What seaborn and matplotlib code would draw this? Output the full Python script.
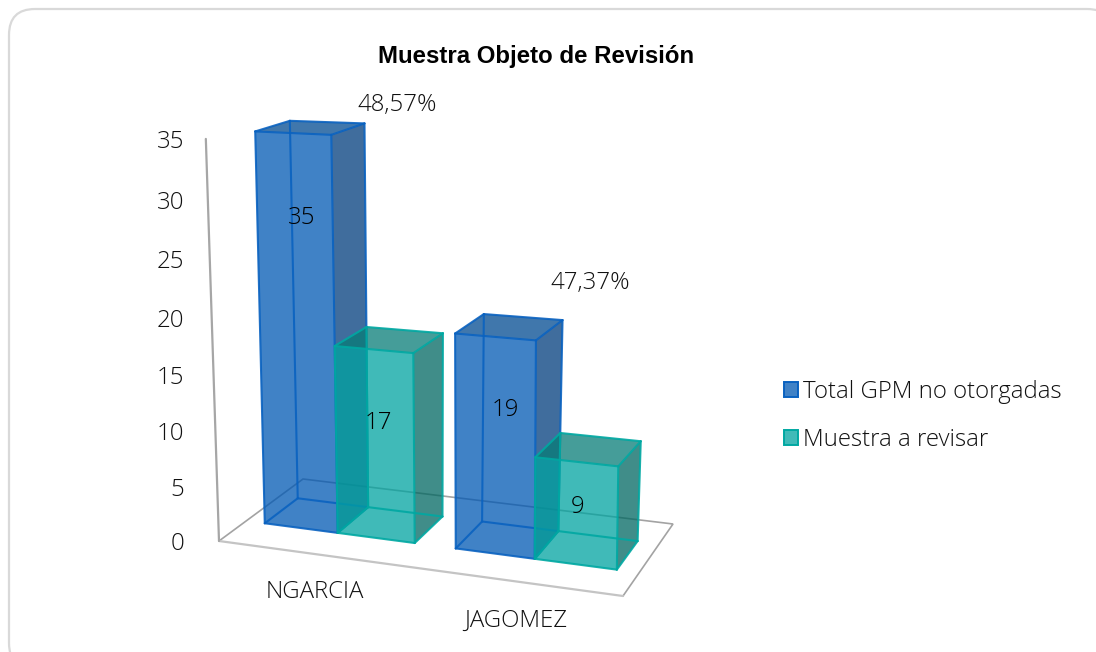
import numpy as np
import pandas as pd
import seaborn as sns
import matplotlib
matplotlib.use("Agg")
import matplotlib.pyplot as plt
from matplotlib.patches import Polygon, FancyBboxPatch, Patch

# ---- data ----
categories = ["NGARCIA", "JAGOMEZ"]
series_names = ["Total GPM no otorgadas", "Muestra a revisar"]
total_gpm = [35, 19]
muestra = [17, 9]
pct_labels = ["48,57%", "47,37%"]
y_ticks = [0, 5, 10, 15, 20, 25, 30, 35]
title = "Muestra Objeto de Revisión"

df = pd.DataFrame({"cat": categories, series_names[0]: total_gpm, series_names[1]: muestra})

# ---- style ----
sns.set_theme(style="white")
plt.rcParams["font.family"] = ["Open Sans", "Liberation Sans", "DejaVu Sans"]
pal_front = sns.color_palette(["#0058B4", "#00A3A0"])
pal_side = sns.color_palette(["#003C7C", "#006761"])
pal_top = sns.color_palette(["#004A90", "#077C77"])
pal_edge = sns.color_palette(["#0A62C0", "#00A8A2"])
TXT = "#111111"

fig = plt.figure(figsize=(10.96, 6.52), dpi=100)
ax = fig.add_axes([0, 0, 1, 1])
ax.set_xlim(0, 1096)
ax.set_ylim(652, 0)
ax.axis("off")

ax.add_patch(FancyBboxPatch((9, 9), 1104, 660, boxstyle="round,pad=0,rounding_size=26",
                            fc="white", ec="#D9D9D9", lw=1.6, zorder=0))

# ---- projection of (u along category axis, d depth, v value) to the picture ----
FLOOR = np.array([[219, 541], [623, 596], [303, 479], [673, 524]], float)  # FL FR BL BR
CEIL = np.array([[207.5, 139], [624, 161], [295, 113], [692, 124]], float)
K = 0.0018
VMAX = max(y_ticks)


def proj(u, d, v):
    t = v * (1 - VMAX * K) / (VMAX * (1 - K * v))
    w = np.array([(1 - u) * (1 - d), u * (1 - d), (1 - u) * d, u * d])
    return tuple((1 - t) * (w @ FLOOR) + t * (w @ CEIL))


# floor and wall
grid_c = "#A3A3A3"
fl, fr, bl, br = [proj(u, d, 0) for u, d in [(0, 0), (1, 0), (0, 1), (1, 1)]]
ax.plot(*zip(fl, bl, br, fr), color=grid_c, lw=1.2, zorder=1, solid_joinstyle="miter")
ax.plot(*zip(fl, fr), color="#C4C4C4", lw=1.6, zorder=1)
ax.plot(*zip(fl, proj(-0.004, 0, VMAX)), color="#A6A6A6", lw=1.6, zorder=1)

# bar footprints along the category axis
U_EDGES = [[0.047, 0.2325, 0.4286], [0.533, 0.734, 0.943]]
D0, D1 = 0.325, 0.725


def draw_bar(u0, u1, v, s, z):
    p = {k: proj(u, d, val) for k, (u, d, val) in {
        "f0b": (u0, D0, 0), "f1b": (u1, D0, 0), "b0b": (u0, D1, 0), "b1b": (u1, D1, 0),
        "f0t": (u0, D0, v), "f1t": (u1, D0, v), "b0t": (u0, D1, v), "b1t": (u1, D1, v)}.items()}
    a = 0.75
    ec = pal_edge[s]
    ax.add_patch(Polygon([p["f1b"], p["b1b"], p["b1t"], p["f1t"]], fc=pal_side[s], alpha=a, ec="none", zorder=z))
    ax.add_patch(Polygon([p["f0t"], p["f1t"], p["b1t"], p["b0t"]], fc=pal_top[s], alpha=a, ec="none", zorder=z))
    ax.add_patch(Polygon([p["f0b"], p["f1b"], p["f1t"], p["f0t"]], fc=pal_front[s], alpha=a, ec="none", zorder=z))
    edges = [("f0b", "f1b"), ("f1b", "b1b"), ("b1b", "b0b"), ("b0b", "f0b"),
             ("f0t", "f1t"), ("f1t", "b1t"), ("b1t", "b0t"), ("b0t", "f0t"),
             ("f0b", "f0t"), ("f1b", "f1t"), ("b1b", "b1t"), ("b0b", "b0t")]
    for e0, e1 in edges:
        ax.plot(*zip(p[e0], p[e1]), color=ec, lw=1.5, alpha=0.9, zorder=z + 0.1, solid_capstyle="round")


for i, row in df.iterrows():
    draw_bar(U_EDGES[i][0], U_EDGES[i][1], row[series_names[0]], 0, 2 + 2 * i)
    draw_bar(U_EDGES[i][1], U_EDGES[i][2], row[series_names[1]], 1, 3 + 2 * i)

# axis labels
FS = 17.3
W = "light"
for v in y_ticks:
    x, y = proj(0, 0, v)
    ax.text(184, y + 3, str(v), ha="right", va="center", fontsize=FS, fontweight=W, color=TXT, zorder=10)
for name, pos in zip(categories, [(315, 592), (516, 621)]):
    ax.text(*pos, name, ha="center", va="center", fontsize=FS, fontweight=W, color=TXT, zorder=10)

# data labels
val_pos = [[(302, 218), (378, 423)], [(505, 410), (578, 507)]]
for i in range(len(categories)):
    ax.text(*val_pos[i][0], str(total_gpm[i]), ha="center", va="center", fontsize=FS, fontweight=W, color="black", zorder=10)
    ax.text(*val_pos[i][1], str(muestra[i]), ha="center", va="center", fontsize=FS, fontweight=W, color="black", zorder=10)
for s, pos in zip(pct_labels, [(397, 105), (590, 283)]):
    ax.text(*pos, s, ha="center", va="center", fontsize=FS, fontweight=W, color=TXT, zorder=10)

ax.text(536, 56, title, ha="center", va="center", fontsize=17.25, fontweight="bold", color="black",
        family=["Liberation Sans", "DejaVu Sans"], zorder=10)

# legend
handles = [Patch(fc=(*pal_front[i], 0.75), ec=pal_edge[i], lw=1.4, label=series_names[i]) for i in range(2)]
leg = ax.legend(handles=handles, loc="center left", bbox_to_anchor=(784 / 1096, 1 - 416 / 652),
                frameon=False, prop={"size": FS, "weight": W}, handlelength=0.57, handleheight=0.57,
                handletextpad=0.2, labelspacing=1.0, borderaxespad=0, borderpad=0, labelcolor=TXT)
leg.set_zorder(10)

fig.savefig("out.png", dpi=100)
